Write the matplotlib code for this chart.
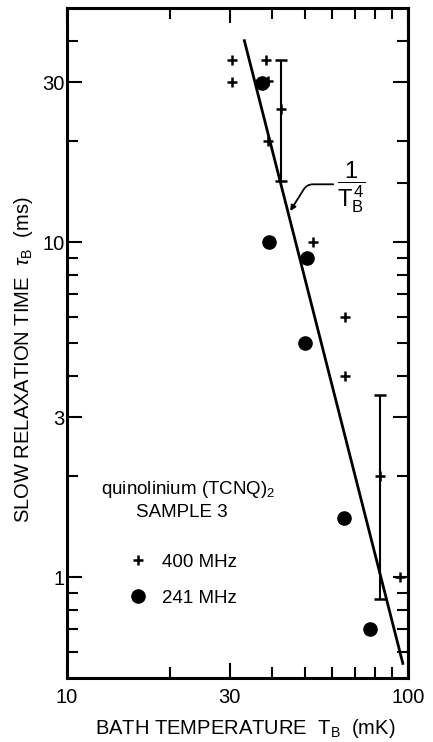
import matplotlib
matplotlib.use('Agg')
import matplotlib.pyplot as plt
from matplotlib.ticker import NullFormatter
import numpy as np

plt.rcParams['font.family'] = ['Liberation Sans', 'DejaVu Sans']
plt.rcParams['mathtext.fontset'] = 'custom'
plt.rcParams['mathtext.rm'] = 'Liberation Sans'
plt.rcParams['mathtext.it'] = 'Liberation Sans:italic'

# 400 MHz points: bath temperature (mK), relaxation time (ms)
T_400 = [30.4, 30.4, 38.3, 38.9, 38.9, 52.5, 65.3, 65.5, 94.7]
tau_400 = [35.0, 30.0, 35.0, 30.3, 20.0, 10.0, 6.0, 4.0, 1.0]

# 400 MHz points with error bars (value, lower end, upper end)
T_400_err = [42.3, 82.8]
tau_400_err = [25.0, 2.0]
tau_400_lo = [15.2, 0.86]
tau_400_hi = [35.0, 3.5]

# 241 MHz points
T_241 = [37.2, 39.1, 50.5, 49.9, 65.0, 77.4]
tau_241 = [29.8, 10.0, 9.0, 5.0, 1.5, 0.70]

# 1/T^4 guide line
T_fit = [33.1, 96.5]
A_fit = 4.8e7

x_major = [10, 30, 100]
x_labels = ['10', '30', '100']
x_minor = [20, 40, 50, 60, 70, 80, 90]
y_major = [1, 3, 10, 30]
y_labels = ['1', '3', '10', '30']
y_minor = [0.6, 0.7, 0.8, 0.9, 2, 4, 5, 6, 7, 8, 9, 20, 40]
y_minor_right = [0.6, 0.7, 0.8, 0.9, 2, 4, 5, 6, 7, 8, 9, 15, 20, 40]

fig = plt.figure(figsize=(4.33, 7.42), dpi=100)
ax = fig.add_axes([0.155, 0.086, 0.7875, 0.903])
ax.set_xscale('log')
ax.set_yscale('log')
ax.set_xlim(10, 100)
ax.set_ylim(0.5, 50)

# fitted line
T_line = np.array(T_fit)
ax.plot(T_line, A_fit / T_line**4, '-', color='k', lw=2.0, zorder=2)

h400, = ax.plot(T_400, tau_400, '+', color='k', ms=7.5, mew=1.8, zorder=3)
lo = np.array(tau_400_err) - np.array(tau_400_lo)
hi = np.array(tau_400_hi) - np.array(tau_400_err)
ax.errorbar(T_400_err, tau_400_err, yerr=[lo, hi], fmt='+', color='k',
            ms=7.5, mew=1.8, elinewidth=1.5, capsize=4, capthick=1.5, zorder=3)
h241, = ax.plot(T_241, tau_241, 'o', color='k', ms=9.5, zorder=4)

# ticks
ax.set_xticks(x_major)
ax.set_xticklabels(x_labels)
ax.set_xticks(x_minor, minor=True)
ax.xaxis.set_minor_formatter(NullFormatter())
ax.set_yticks(y_major)
ax.set_yticklabels(y_labels)
ax.set_yticks(y_minor, minor=True)
ax.yaxis.set_minor_formatter(NullFormatter())
ax.tick_params(which='both', direction='in', top=True, right=False, width=1.5)
ax.tick_params(which='major', length=11, labelsize=14.5)
ax.tick_params(which='minor', length=8)
ax.tick_params(axis='x', which='major', pad=7)
ax.tick_params(axis='y', which='major', pad=2)

sec = ax.secondary_yaxis('right')
sec.set_yticks(y_major)
sec.set_yticks(y_minor_right, minor=True)
sec.yaxis.set_major_formatter(NullFormatter())
sec.yaxis.set_minor_formatter(NullFormatter())
sec.tick_params(which='both', direction='in', width=1.5)
sec.tick_params(which='major', length=11)
sec.tick_params(which='minor', length=8)
sec.spines['right'].set_linewidth(2.2)

for s in ax.spines.values():
    s.set_linewidth(2.2)

ax.set_xlabel('BATH TEMPERATURE  T$_{\\mathrm{B}}$  (mK)', fontsize=14.5)
ax.xaxis.set_label_coords(0.522, -0.058)
ax.set_ylabel('SLOW RELAXATION TIME  $\\tau_{\\mathrm{B}}$  (ms)', fontsize=14.5)
ax.yaxis.set_label_coords(-0.094, 0.475)

# 1/T_B^4 label with leader arrow
ax.text(68.0, 14.6, r'$\dfrac{1}{\mathrm{T}_{\mathrm{B}}^{\,4}}$', ha='center',
        va='center', fontsize=17)
ax.annotate('', xy=(45.1, 12.4), xytext=(60.3, 14.9),
            arrowprops=dict(arrowstyle='-|>', color='k', lw=1.3,
                            mutation_scale=8, shrinkA=0, shrinkB=0,
                            connectionstyle='angle,angleA=0,angleB=58,rad=6'))

ax.text(0.355, 0.282, 'quinolinium (TCNQ)$_2$', transform=ax.transAxes,
        ha='center', va='center', fontsize=13.5)
ax.text(0.337, 0.248, 'SAMPLE 3', transform=ax.transAxes,
        ha='center', va='center', fontsize=13.5)

ax.legend([h400, h241], ['400 MHz', '241 MHz'], loc='upper left',
          bbox_to_anchor=(0.179, 0.186), frameon=False, borderpad=0,
          borderaxespad=0, handlelength=1.0, handletextpad=0.83,
          labelspacing=1.0, fontsize=13.5, numpoints=1)

fig.savefig('out.png', dpi=100)
